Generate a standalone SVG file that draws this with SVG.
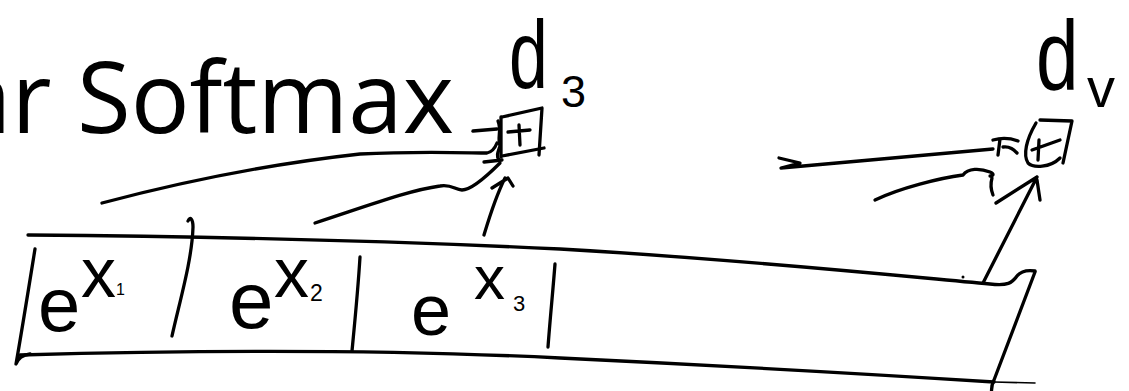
<svg xmlns="http://www.w3.org/2000/svg" width="1129" height="391" viewBox="0 0 1129 391">
<style>
.ink{fill:none;stroke:#000;stroke-width:3.3;stroke-linecap:round;stroke-linejoin:round}
.thin{fill:none;stroke:#000;stroke-width:1.6;stroke-linecap:round}
.hw{font-family:"Liberation Sans","DejaVu Sans",sans-serif;fill:#000}
.title{font-family:"Open Sans","Noto Sans",sans-serif;font-size:98px;fill:#000}
</style>
<rect width="1129" height="391" fill="#fff"/>
<text class="title" x="454" y="133" text-anchor="end">ar Softmax</text>

<g id="strip">
<path class="ink" d="M28,235 C150,236 350,239 560,249 C750,260 900,276 990,284 C1008,286 1012,283 1017,276 C1021,271 1028,270 1035,271"/>
<path class="ink" d="M1035,272 L994,380 C991,386 991,390 992,395"/>
<path class="ink" d="M20,355 C200,350 400,350 560,358 C750,367 900,376 994,382"/>
<path class="thin" d="M994,382 L1035,383"/>
<path class="ink" d="M35,249 C30,280 22,330 16,364 C18,358 22,355 30,354"/>
<path class="ink" d="M188,221 C190,216 193,219 193,227 C192,260 180,300 172,336"/>
<path class="ink" d="M360,257 C358,290 355,320 352,351"/>
<path class="ink" d="M555,264 C553,290 550,320 548,347"/>
</g>

<g id="cells">
<text class="hw" x="38" y="331" font-size="76">e</text>
<text class="hw" x="81" y="297" font-size="70">x</text>
<text class="hw" x="116" y="295" font-size="16">1</text>
<text class="hw" x="229" y="328" font-size="80">e</text>
<text class="hw" x="274" y="297" font-size="70">x</text>
<text class="hw" x="310" y="301" font-size="23">2</text>
<text class="hw" x="411" y="335" font-size="72">e</text>
<text class="hw" x="474" y="299" font-size="62">x</text>
<text class="hw" x="513" y="311" font-size="22">3</text>
</g>

<g id="node-d3">
<text class="hw" transform="translate(509,88) scale(0.72,1)" font-size="97">d</text>
<text class="hw" x="561" y="107" font-size="45">3</text>
<path class="ink" d="M502,117 L542,108 L539,155"/>
<path class="ink" d="M501,117 L501,157"/>
<path class="ink" d="M502,156 L544,148"/>
<path class="ink" d="M519,125 L520,145 M508,132 L530,130"/>
</g>

<g id="node-dv">
<text class="hw" transform="translate(1036,89) scale(0.78,1)" font-size="98">d</text>
<text class="hw" x="1087" y="107" font-size="56">v</text>
<path class="ink" d="M1040,120 L1072,121 L1063,163"/>
<path class="ink" d="M1036,123 C1026,140 1023,155 1028,163 C1033,168 1050,168 1060,158"/>
<path class="ink" d="M1039,140 L1038,160 M1032,150 L1060,140"/>
</g>

<g id="connectors">
<path class="ink" d="M102,203 C170,185 260,165 360,154 C420,151 470,153 487,153 C492,152 495,148 497,143"/>
<path class="ink" d="M498,121 C502,130 497,138 500,146 C498,152 496,156 499,160 M484,162 L502,160"/>
<path class="ink" d="M473,131 L497,129"/>
<path class="ink" d="M315,223 C370,205 410,190 440,186 C452,184 455,190 462,190 C470,190 485,178 500,163"/>
<path class="ink" d="M484,235 C490,215 495,198 505,178 M492,188 L508,178 L513,186"/>
<path class="ink" d="M779,158 L800,163 L781,168 L993,149"/>
<path class="ink" d="M993,140 C1000,138 1010,138 1018,141 M1000,139 L998,155 M1003,147 C1010,146 1014,150 1017,153"/>
<path class="ink" d="M875,200 C900,188 940,178 963,175 C968,168 980,168 990,172 C995,174 993,176 990,176 M992,178 C990,185 991,190 993,195"/>
<path class="ink" d="M983,283 L1037,177 M996,203 L1037,177 M1037,180 L1040,200"/>
<circle cx="963" cy="277" r="1.5" fill="#000"/>
</g>
</svg>
